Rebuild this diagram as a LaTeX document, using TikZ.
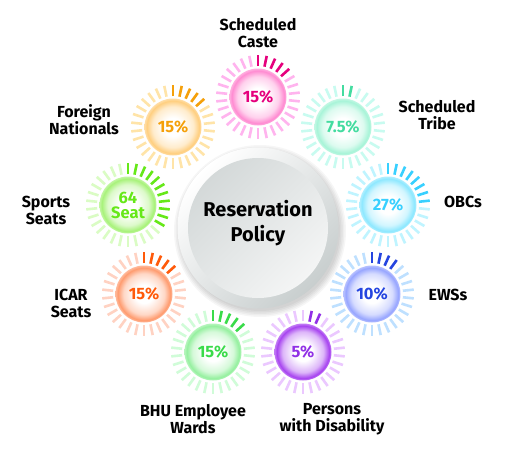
\documentclass[tikz,border=0pt]{standalone}
\usepackage{fontspec}
\setmainfont{Fira Sans}
\usetikzlibrary{calc}
\colorlet{ballc}{white}
\pgfdeclareradialshading[ballc]{sunball}{\pgfpoint{0bp}{0bp}}{color(0bp)=(white); color(8bp)=(white); color(18bp)=(ballc!40!white); color(23bp)=(ballc); color(25bp)=(ballc!70!white); color(50bp)=(ballc!70!white)}
\definecolor{cfc8ccc}{HTML}{C8CECE}
\definecolor{cD3D8D8}{HTML}{D4D9D9}
\definecolor{cF4F5F5}{HTML}{F4F5F5}
\tikzset{
  ball/.style={circle, minimum size=57pt, inner sep=0pt, shading=sunball, align=center,
    font=\fontsize{16.5}{15}\selectfont\bfseries},
  tickmark/.style={line width=2.6pt},
  lbl/.style={align=center, font=\fontsize{16}{17}\selectfont\bfseries, text=black},
  ring/.style={circle, minimum size=161pt, inner sep=0pt, shading=axis, top color=white,
    bottom color=cfc8ccc, shading angle=45},
  core/.style={circle, minimum size=140pt, inner sep=0pt, shading=axis, top color=cD3D8D8,
    bottom color=cF4F5F5, shading angle=45},
  title/.style={align=center, font=\fontsize{20}{25}\selectfont\bfseries, text=black}
}
% name, x, y, dark, light, ball, first dark, end dark, text
\newcommand\sunitem[9]{%
  \colorlet{ballc}{#6}%
  \foreach \k in {0,...,29}{%
    \pgfmathsetmacro\ang{90-12*\k}%
    \ifnum\k<#7\relax \def\tc{#5}\else\ifnum\k<#8\relax\def\tc{#4}\else\def\tc{#5}\fi\fi
    \draw[tickmark, color=\tc] ($(#2,#3)+(\ang:31pt)$) -- ($(#2,#3)+(\ang:42pt)$);
  }%
  \node[ball, text=#4] (#1) at (#2,#3) {#9};
}
\definecolor{caD}{HTML}{E5007D}\definecolor{caL}{HTML}{FFB4EE}\definecolor{caB}{HTML}{FF8CD2}
\definecolor{trD}{HTML}{44DCA0}\definecolor{trL}{HTML}{C8FBF0}\definecolor{trB}{HTML}{A8F4D8}
\definecolor{obD}{HTML}{38D0FF}\definecolor{obL}{HTML}{BFF4FF}\definecolor{obB}{HTML}{8EE8FF}
\definecolor{ewD}{HTML}{2545E0}\definecolor{ewL}{HTML}{BEE0FF}\definecolor{ewB}{HTML}{98A6FF}
\definecolor{pwD}{HTML}{9130E6}\definecolor{pwL}{HTML}{EBC8FF}\definecolor{pwB}{HTML}{A845F0}
\definecolor{bhD}{HTML}{3ADB4A}\definecolor{bhL}{HTML}{D0FCD8}\definecolor{bhB}{HTML}{96F0A0}
\definecolor{icD}{HTML}{FF5A0A}\definecolor{icL}{HTML}{FFD2C2}\definecolor{icB}{HTML}{FF9C70}
\definecolor{spD}{HTML}{66E818}\definecolor{spL}{HTML}{DAFCC4}\definecolor{spB}{HTML}{A8F27A}
\definecolor{foD}{HTML}{F5A00A}\definecolor{foL}{HTML}{FFE4A8}\definecolor{foB}{HTML}{FFCF80}
\begin{document}
\begin{tikzpicture}[x=1pt,y=-1pt]
\useasboundingbox (0,0) rectangle (516,450);
\fill[white] (0,0) rectangle (516,450);
% center shadow
\foreach \r in {80,81.5,83,84.5,86}{\fill[black, opacity=0.035] (260,231) circle[radius=\r pt];}
\node[ring] (ringc) at (258,228) {};
\node[core] (center) at (258,228) {};
\node[title] (title) at (258,223) {Reservation\\Policy};
% suns
\sunitem{caste}{258}{97}{caD}{caL}{caB}{0}{5}{15\%}
\sunitem{tribe}{343}{127}{trD}{trL}{trB}{0}{2}{7.5\%}
\sunitem{obc}{388}{205}{obD}{obL}{obB}{0}{8}{27\%}
\sunitem{ews}{372}{294}{ewD}{ewL}{ewB}{0}{4}{10\%}
\sunitem{pwd}{303}{352}{pwD}{pwL}{pwB}{1}{3}{5\%}
\sunitem{bhu}{213}{352}{bhD}{bhL}{bhB}{0}{5}{15\%}
\sunitem{icar}{144}{294}{icD}{icL}{icB}{0}{5}{15\%}
\sunitem{sports}{128}{205}{spD}{spL}{spB}{0}{11}{64\\Seat}
\sunitem{foreign}{173}{127}{foD}{foL}{foB}{0}{5}{15\%}
% labels
\node[lbl] (l-caste) at (258,33) {Scheduled\\Caste};
\node[lbl] (l-tribe) at (437,115) {Scheduled\\Tribe};
\node[lbl] (l-obc) at (463,202) {OBCs};
\node[lbl] (l-ews) at (448,295) {EWSs};
\node[lbl] (l-pwd) at (332,419) {Persons\\with Disability};
\node[lbl] (l-bhu) at (193,419) {BHU Employee\\Wards};
\node[lbl] (l-icar) at (71,303) {ICAR\\Seats};
\node[lbl] (l-sports) at (46,210) {Sports\\Seats};
\node[lbl] (l-foreign) at (84,120) {Foreign\\Nationals};
\end{tikzpicture}
\end{document}
